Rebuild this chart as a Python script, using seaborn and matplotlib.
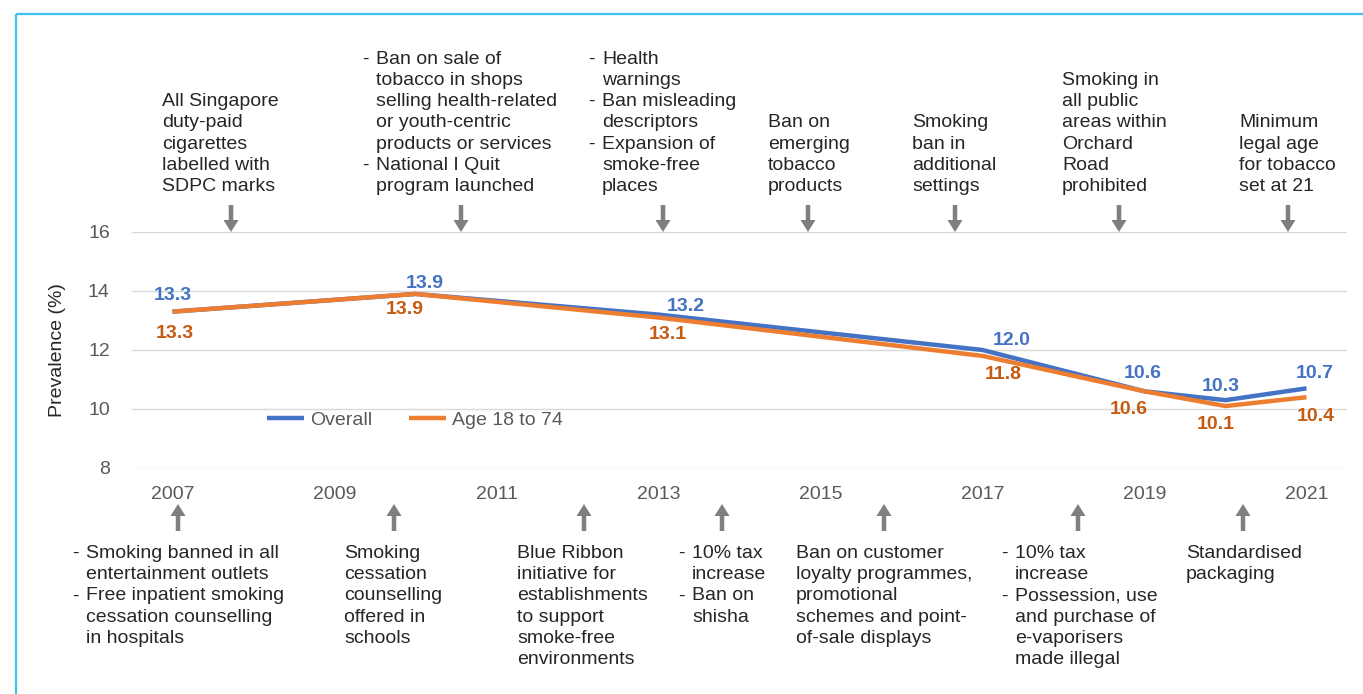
import numpy as np
import pandas as pd
import matplotlib
matplotlib.use("Agg")
import matplotlib.pyplot as plt
import matplotlib.transforms as mtransforms
from matplotlib.patches import FancyArrow, Rectangle
import seaborn as sns

# ---------------- data ----------------
years = [2007, 2010, 2013, 2017, 2019, 2020, 2021]
overall = [13.3, 13.9, 13.2, 12.0, 10.6, 10.3, 10.7]
age_18_74 = [13.3, 13.9, 13.1, 11.8, 10.6, 10.1, 10.4]
series_names = ["Overall", "Age 18 to 74"]
x_ticks = [2007, 2009, 2011, 2013, 2015, 2017, 2019, 2021]
y_ticks = [8, 10, 12, 14, 16]

top_events = [
    ["All Singapore\nduty-paid\ncigarettes\nlabelled with\nSDPC marks"],
    ["- Ban on sale of\ntobacco in shops\nselling health-related\nor youth-centric\nproducts or services",
     "- National I Quit\nprogram launched"],
    ["- Health\nwarnings", "- Ban misleading\ndescriptors", "- Expansion of\nsmoke-free\nplaces"],
    ["Ban on\nemerging\ntobacco\nproducts"],
    ["Smoking\nban in\nadditional\nsettings"],
    ["Smoking in\nall public\nareas within\nOrchard\nRoad\nprohibited"],
    ["Minimum\nlegal age\nfor tobacco\nset at 21"],
]
bottom_events = [
    ["- Smoking banned in all\nentertainment outlets",
     "- Free inpatient smoking\ncessation counselling\nin hospitals"],
    ["Smoking\ncessation\ncounselling\noffered in\nschools"],
    ["Blue Ribbon\ninitiative for\nestablishments\nto support\nsmoke-free\nenvironments"],
    ["- 10% tax\nincrease", "- Ban on\nshisha"],
    ["Ban on customer\nloyalty programmes,\npromotional\nschemes and point-\nof-sale displays"],
    ["- 10% tax\nincrease", "- Possession, use\nand purchase of\ne-vaporisers\nmade illegal"],
    ["Standardised\npackaging"],
]

# ---------------- layout (pixels) ----------------
W, H = 1363, 694
top_text_x = [162, 362, 588, 768, 912, 1062, 1239]
top_arrow_x = [231, 461, 663, 808, 955, 1119, 1288]
bot_text_x = [72, 344, 517, 678, 796, 1001, 1186]
bot_arrow_x = [178, 394, 584, 722, 884, 1078, 1243]
line_h = 21.2
top_last_line_y = 186.5
bot_first_line_y = 553.5

# label offsets in pixels (dx, dy up)
ov_off = [(0, 16), (9, 10), (27, 8), (29, 9), (-2, 18), (-5, 14), (8, 15)]
ag_off = [(2, -22), (-11, -16), (9, -17), (21, -19), (-16, -18), (-10, -18), (9, -19)]

BLUE = "#4472C4"
ORANGE = "#ED7D31"
ORANGE_TXT = "#C55A11"
GREY_TXT = "#595959"
TXT = "#262626"
ARROW = "#7F7F7F"

sns.set_style("white")
plt.rcParams["font.family"] = ["Liberation Sans", "DejaVu Sans"]

fig = plt.figure(figsize=(W / 100, H / 100), dpi=100)
ax = fig.add_axes([132 / W, 1 - 468 / H, (1347 - 132) / W, (468 - 232) / H])

df = pd.DataFrame({
    "Year": years * 2,
    "Prevalence": overall + age_18_74,
    "Series": [series_names[0]] * len(years) + [series_names[1]] * len(years),
})
sns.lineplot(data=df, x="Year", y="Prevalence", hue="Series",
             palette={series_names[0]: BLUE, series_names[1]: ORANGE},
             linewidth=3.2, ax=ax, legend=True)
for ln in ax.get_lines():
    ln.set_solid_capstyle("butt")

ax.set_xlim(2006.5, 2021.5)
ax.set_ylim(8, 16)
ax.set_xticks(x_ticks)
ax.set_yticks(y_ticks)
ax.tick_params(axis="both", length=0, labelsize=14, labelcolor=GREY_TXT)
ax.tick_params(axis="x", pad=13)
ax.tick_params(axis="y", pad=16)
ax.grid(axis="y", color="#D9D9D9", linewidth=1)
ax.grid(axis="x", visible=False)
for s in ax.spines.values():
    s.set_visible(False)
ax.set_xlabel("")
ax.set_ylabel("Prevalence (%)", fontsize=14, color=TXT)
ax.yaxis.set_label_coords((66 - 132) / 1215, 0.5)

leg = ax.legend(loc="center", bbox_to_anchor=(0.233, 0.203), ncol=2, frameon=False,
                fontsize=14, handlelength=1.9, handletextpad=0.3, columnspacing=1.9)
for t in leg.get_texts():
    t.set_color(GREY_TXT)
for h in leg.get_lines():
    h.set_linewidth(3.2)

# data labels
for yr, v, (dx, dy) in zip(years, overall, ov_off):
    ax.annotate(f"{v:.1f}", xy=(yr, v), xytext=(dx, dy), textcoords="offset pixels",
                ha="center", va="center", fontsize=14, fontweight="bold", color=BLUE)
for yr, v, (dx, dy) in zip(years, age_18_74, ag_off):
    ax.annotate(f"{v:.1f}", xy=(yr, v), xytext=(dx, dy), textcoords="offset pixels",
                ha="center", va="center", fontsize=14, fontweight="bold", color=ORANGE_TXT)

# pixel transform (origin top-left)
pxT = mtransforms.Affine2D().scale(1 / W, -1 / H).translate(0, 1) + fig.transFigure


def draw_block(items, x0, y_first):
    i = 0
    for item in items:
        bullet = item.startswith("- ")
        body = item[2:] if bullet else item
        lines = body.split("\n")
        if bullet:
            fig.text(x0, y_first + i * line_h, "-", transform=pxT, ha="left",
                     va="center", fontsize=14, color=TXT)
        xt = x0 + 14 if bullet else x0
        for ln in lines:
            fig.text(xt, y_first + i * line_h, ln, transform=pxT, ha="left",
                     va="center", fontsize=14, color=TXT)
            i += 1


def n_lines(items):
    return sum(len(it.split("\n")) for it in items)


for items, x0 in zip(top_events, top_text_x):
    n = n_lines(items)
    draw_block(items, x0, top_last_line_y - (n - 1) * line_h)
for items, x0 in zip(bottom_events, bot_text_x):
    draw_block(items, x0, bot_first_line_y)

# arrows
for xa in top_arrow_x:
    fig.add_artist(FancyArrow(xa, 205, 0, 27, width=4.5, head_width=15, head_length=12,
                              length_includes_head=True, color=ARROW, lw=0, transform=pxT))
for xa in bot_arrow_x:
    fig.add_artist(FancyArrow(xa, 531, 0, -27, width=4.5, head_width=15, head_length=12,
                              length_includes_head=True, color=ARROW, lw=0, transform=pxT))

# outer light-blue frame
fig.add_artist(Rectangle((16, 14), 1400, 720, fill=False, edgecolor="#3FC1F0",
                         linewidth=1.6, transform=pxT))

fig.savefig("out.png", dpi=100)
